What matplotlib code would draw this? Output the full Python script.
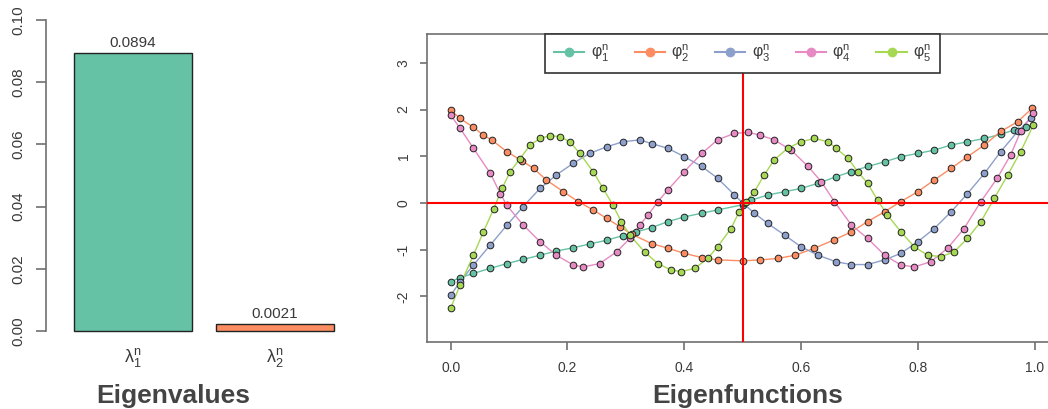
import matplotlib
matplotlib.use("Agg")
import matplotlib.pyplot as plt
from matplotlib.lines import Line2D

plt.rcParams["font.family"] = ["Liberation Sans", "DejaVu Sans"]
plt.rcParams["mathtext.fontset"] = "dejavusans"

# ---------------------------------------------------------
# Data
# ---------------------------------------------------------
eig_labels = [r"$\mathregular{\lambda_1^n}$", r"$\mathregular{\lambda_2^n}$"]
eig_values = [0.0894, 0.0021]
eig_colors = ["#66C2A5", "#FC8D62"]

phi1_x = [0, 0.016, 0.039, 0.068, 0.096, 0.124, 0.153, 0.181, 0.21, 0.238, 0.267, 0.295,
          0.318, 0.344, 0.372, 0.4, 0.43, 0.457, 0.5, 0.515, 0.543, 0.572, 0.6, 0.629,
          0.66, 0.686, 0.714, 0.743, 0.771, 0.8, 0.828, 0.857, 0.885, 0.914, 0.942, 0.965, 0.985]
phi1_y = [-1.69, -1.6, -1.51, -1.40, -1.30, -1.21, -1.12, -1.03, -0.96, -0.88, -0.80, -0.70,
          -0.62, -0.53, -0.40, -0.30, -0.22, -0.15, -0.04, 0.06, 0.17, 0.24, 0.31, 0.42,
          0.56, 0.67, 0.78, 0.88, 0.99, 1.06, 1.13, 1.24, 1.31, 1.38, 1.47, 1.56, 1.62]

phi2_x = [0, 0.016, 0.039, 0.056, 0.07, 0.096, 0.122, 0.142, 0.164, 0.193, 0.218, 0.244,
          0.267, 0.29, 0.31, 0.344, 0.372, 0.4, 0.43, 0.457, 0.5, 0.53, 0.56, 0.59, 0.623,
          0.657, 0.686, 0.714, 0.743, 0.771, 0.8, 0.828, 0.857, 0.885, 0.914, 0.942, 0.971, 0.996]
phi2_y = [1.99, 1.81, 1.62, 1.45, 1.35, 1.1, 0.9, 0.74, 0.49, 0.24, 0.03, -0.15,
          -0.33, -0.51, -0.67, -0.87, -0.97, -1.08, -1.17, -1.22, -1.24, -1.22, -1.19, -1.12, -0.97,
          -0.79, -0.62, -0.4, -0.19, 0.03, 0.24, 0.49, 0.74, 0.99, 1.24, 1.53, 1.74, 2.03]

phi3_x = [0, 0.016, 0.039, 0.068, 0.096, 0.124, 0.153, 0.181, 0.21, 0.238, 0.267, 0.295,
          0.324, 0.344, 0.372, 0.4, 0.43, 0.457, 0.486, 0.5, 0.52, 0.543, 0.572, 0.6, 0.629,
          0.66, 0.686, 0.714, 0.743, 0.771, 0.8, 0.828, 0.857, 0.885, 0.914, 0.942, 0.971, 0.993]
phi3_y = [-1.98, -1.69, -1.33, -0.90, -0.48, -0.08, 0.31, 0.60, 0.85, 1.06, 1.2, 1.31,
          1.35, 1.27, 1.17, 0.99, 0.78, 0.53, 0.17, 0, -0.22, -0.44, -0.69, -0.94, -1.12,
          -1.26, -1.32, -1.32, -1.22, -1.08, -0.83, -0.55, -0.19, 0.2, 0.63, 1.1, 1.53, 1.81]

phi4_x = [0, 0.016, 0.039, 0.068, 0.085, 0.096, 0.124, 0.153, 0.181, 0.21, 0.227, 0.255,
          0.284, 0.307, 0.324, 0.338, 0.355, 0.372, 0.4, 0.43, 0.457, 0.486, 0.51, 0.53,
          0.554, 0.583, 0.612, 0.635, 0.657, 0.686, 0.714, 0.743, 0.771, 0.794, 0.822, 0.851,
          0.879, 0.908, 0.936, 0.959, 0.976, 0.998]
phi4_y = [1.88, 1.6, 1.17, 0.63, 0.2, -0.05, -0.47, -0.83, -1.12, -1.33, -1.37, -1.3,
          -1.05, -0.76, -0.47, -0.26, 0.03, 0.28, 0.67, 1.06, 1.35, 1.49, 1.51, 1.45,
          1.35, 1.13, 0.78, 0.45, 0.03, -0.47, -0.76, -1.12, -1.33, -1.37, -1.26, -0.97,
          -0.55, 0.03, 0.53, 1.03, 1.53, 1.92]

phi5_x = [0, 0.016, 0.039, 0.056, 0.074, 0.088, 0.102, 0.119, 0.136, 0.153, 0.17, 0.187,
          0.204, 0.221, 0.244, 0.261, 0.278, 0.292, 0.307, 0.332, 0.355, 0.378, 0.395, 0.418,
          0.44, 0.457, 0.48, 0.494, 0.506, 0.52, 0.537, 0.554, 0.577, 0.6, 0.623, 0.646, 0.66,
          0.68, 0.697, 0.714, 0.731, 0.748, 0.771, 0.794, 0.817, 0.84, 0.862, 0.885, 0.908,
          0.931, 0.954, 0.976, 0.998]
phi5_y = [-2.26, -1.76, -1.12, -0.62, -0.12, 0.31, 0.67, 0.95, 1.24, 1.38, 1.44, 1.42,
          1.31, 1.06, 0.67, 0.31, -0.05, -0.4, -0.69, -1.05, -1.3, -1.44, -1.47, -1.4,
          -1.19, -0.94, -0.55, -0.19, 0.03, 0.24, 0.6, 0.92, 1.17, 1.31, 1.38, 1.31, 1.17,
          0.96, 0.67, 0.42, 0.06, -0.26, -0.62, -0.94, -1.12, -1.15, -1.05, -0.76, -0.4,
          0.1, 0.6, 1.1, 1.67]

phi_x = [phi1_x, phi2_x, phi3_x, phi4_x, phi5_x]
phi_y = [phi1_y, phi2_y, phi3_y, phi4_y, phi5_y]
phi_labels = [r"$\mathregular{\varphi_%d^n}$" % (i + 1) for i in range(5)]
phi_colors = ["#66C2A5", "#FC8D62", "#8DA0CB", "#E78AC3", "#A6D854"]

# ---------------------------------------------------------
# Figure / axes placed in pixel units
# ---------------------------------------------------------
W, H = 1048, 409
fig = plt.figure(figsize=(W / 100, H / 100), dpi=100)


def px_axes(left, top, right, bottom):
    return fig.add_axes([left / W, 1 - bottom / H, (right - left) / W, (bottom - top) / H])


spine_col = "#707070"
text_col = "#3a3a3a"

# ---------------------------------------------------------
# Left: eigenvalues bar chart
# ---------------------------------------------------------
ax1 = px_axes(46, 7.6, 344, 343.4)
bar_pos = [0.7, 1.9]
ax1.bar(bar_pos, eig_values, width=1.0, color=eig_colors, edgecolor="#222222", linewidth=1.0)
for p, v in zip(bar_pos, eig_values):
    ax1.annotate(f"{v:.4f}", (p, v), xytext=(0, 4.3), textcoords="offset points",
                 ha="center", va="baseline", fontsize=11, color=text_col)
ax1.set_xlim(-0.037, 2.488)
ax1.set_ylim(-0.004, 0.104)
for s in ["top", "right", "bottom"]:
    ax1.spines[s].set_visible(False)
ax1.spines["left"].set_bounds(0, 0.1)
ax1.spines["left"].set_color(spine_col)
ax1.spines["left"].set_linewidth(1.2)
ax1.set_yticks([0, 0.02, 0.04, 0.06, 0.08, 0.10])
ax1.set_yticklabels(["0.00", "0.02", "0.04", "0.06", "0.08", "0.10"], rotation=90, va="center")
ax1.tick_params(axis="y", length=7.2, width=1.2, pad=8, labelsize=11, color=spine_col,
                labelcolor=text_col)
ax1.set_xticks(bar_pos)
ax1.set_xticklabels(eig_labels)
ax1.tick_params(axis="x", length=0, pad=2, labelsize=13, labelcolor=text_col)

# ---------------------------------------------------------
# Right: eigenfunctions
# ---------------------------------------------------------
ax2 = px_axes(427.3, 34, 1058, 341.7)
for xs, ys, c in zip(phi_x, phi_y, phi_colors):
    ax2.plot(xs, ys, "-", color=c, lw=1.0, zorder=2)
    ax2.plot(xs, ys, "o", mfc=c, mec="#222222", mew=0.7, ms=4.8, zorder=3)
ax2.axvline(0.5, color="red", lw=1.5, zorder=5)
ax2.axhline(0, color="red", lw=1.5, zorder=5)
ax2.set_xlim(-0.04, 1.04)
ax2.set_ylim(-2.972, 3.617)
for s in ax2.spines.values():
    s.set_color(spine_col)
    s.set_linewidth(1.2)
ax2.set_xticks([0, 0.2, 0.4, 0.6, 0.8, 1.0])
ax2.set_xticklabels(["0.0", "0.2", "0.4", "0.6", "0.8", "1.0"])
ax2.set_yticks([-2, -1, 0, 1, 2, 3])
ax2.set_yticklabels(["-2", "-1", "0", "1", "2", "3"], rotation=90, va="center")
ax2.tick_params(axis="x", length=5.8, width=1.2, pad=8, labelsize=10, color=spine_col,
                labelcolor=text_col)
ax2.tick_params(axis="y", length=5, width=1.2, pad=7, labelsize=10, color=spine_col,
                labelcolor=text_col)

handles = [Line2D([0], [0], color=c, lw=1.5, marker="o", ms=6, mfc=c, mec=c) for c in phi_colors]
leg = ax2.legend(handles, phi_labels, loc="upper center", bbox_to_anchor=(0.5, 1.0), ncol=5,
                 fontsize=11.5, frameon=True, fancybox=False, framealpha=1, edgecolor="#333333",
                 borderaxespad=0, handlelength=1.9, handletextpad=0.4, columnspacing=1.6,
                 borderpad=0.55)
leg.get_frame().set_linewidth(1.2)
for t in leg.get_texts():
    t.set_color(text_col)

# ---------------------------------------------------------
# Panel titles
# ---------------------------------------------------------
fig.text(173 / W, 1 - 402.5 / H, "Eigenvalues", ha="center", va="baseline",
         fontsize=19, fontweight="bold", color="#444444")
fig.text(748 / W, 1 - 402.5 / H, "Eigenfunctions", ha="center", va="baseline",
         fontsize=19, fontweight="bold", color="#444444")

fig.savefig("out.png", dpi=100)
